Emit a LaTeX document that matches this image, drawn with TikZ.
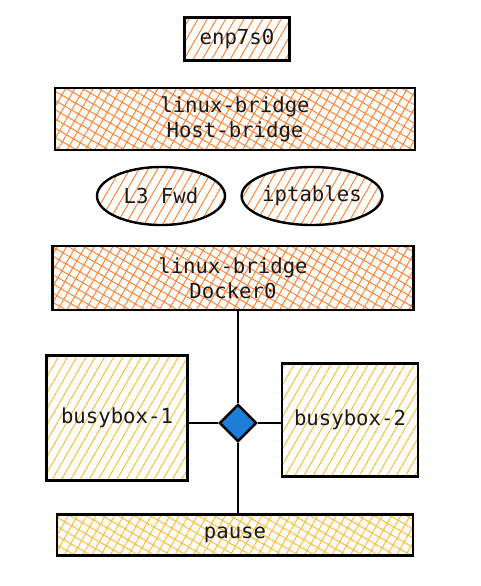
\documentclass[tikz,border=0pt]{standalone}
\usepackage{fontspec}
\setmonofont{DejaVu Sans Mono}
\usetikzlibrary{positioning,shapes.geometric,patterns.meta}
\definecolor{sketchorange}{HTML}{FD8A3C}
\definecolor{sketchyellow}{HTML}{FBC043}
\definecolor{sketchblue}{HTML}{1C7ED6}

\begin{document}
\begin{tikzpicture}[
		x=0.75pt, y=-0.75pt,
		label/.style={font=\ttfamily\fontsize{15.5}{18.75}\selectfont, align=center, text=black!90},
		ifbox/.style={rectangle, draw=black, line width=1.8pt, label, pattern={Lines[angle=60,distance=6pt,line width=0.8pt]}, pattern color=sketchorange},
		bridge/.style={rectangle, draw=black, line width=1.8pt, label, pattern={Hatch[angle=60,distance=6pt,line width=0.8pt]}, pattern color=sketchorange},
		oval/.style={ellipse, draw=black, line width=1.8pt, label, inner sep=0pt, pattern={Lines[angle=60,distance=6pt,line width=0.8pt]}, pattern color=sketchorange},
		podbox/.style={rectangle, draw=black, line width=1.8pt, label, pattern={Lines[angle=60,distance=6pt,line width=0.8pt]}, pattern color=sketchyellow},
		pausebox/.style={rectangle, draw=black, line width=1.8pt, label, pattern={Hatch[angle=60,distance=6pt,line width=0.8pt]}, pattern color=sketchyellow},
		hub/.style={diamond, draw=black, line width=1.8pt, fill=sketchblue, minimum size=28pt, inner sep=0pt},
		wire/.style={draw=black, line width=1.8pt},
		]
		\useasboundingbox (0,0) rectangle (480,586);

		%Host side
		\node[ifbox, minimum width=78.75pt, minimum height=32.25pt]	(enp)	at (237,39)	{enp7s0};
		\node[bridge, minimum width=270pt, minimum height=46.5pt]	(hostbr)	at (235,119)	{linux-bridge\\Host-bridge};
		\node[oval, minimum width=96pt, minimum height=43.5pt]	(fwd)	at (161,196)	{L3 Fwd};
		\node[oval, minimum width=101pt, minimum height=43.5pt]	(iptab)	at (312,196)	{iptables};
		\node[bridge, minimum width=271pt, minimum height=48pt]	(docker)	at (233,278)	{linux-bridge\\Docker0};

		%Pod
		\node[podbox, minimum width=106pt, minimum height=94pt]	(bb1)	at (117,418)	{busybox-1};
		\node[podbox, minimum width=102pt, minimum height=85pt]	(bb2)	at (350,420)	{busybox-2};
		\node[hub]	(veth)	at (238,423)	{};
		\node[pausebox, minimum width=267pt, minimum height=31pt]	(pause)	at (235,535)	{pause};

		%Links
		\draw[wire]	(veth.north)	--	(veth.north |- docker.south);
		\draw[wire]	(veth.south)	--	(veth.south |- pause.north);
		\draw[wire]	(veth.west)	--	(veth.west -| bb1.east);
		\draw[wire]	(veth.east)	--	(veth.east -| bb2.west);
\end{tikzpicture}
\end{document}
